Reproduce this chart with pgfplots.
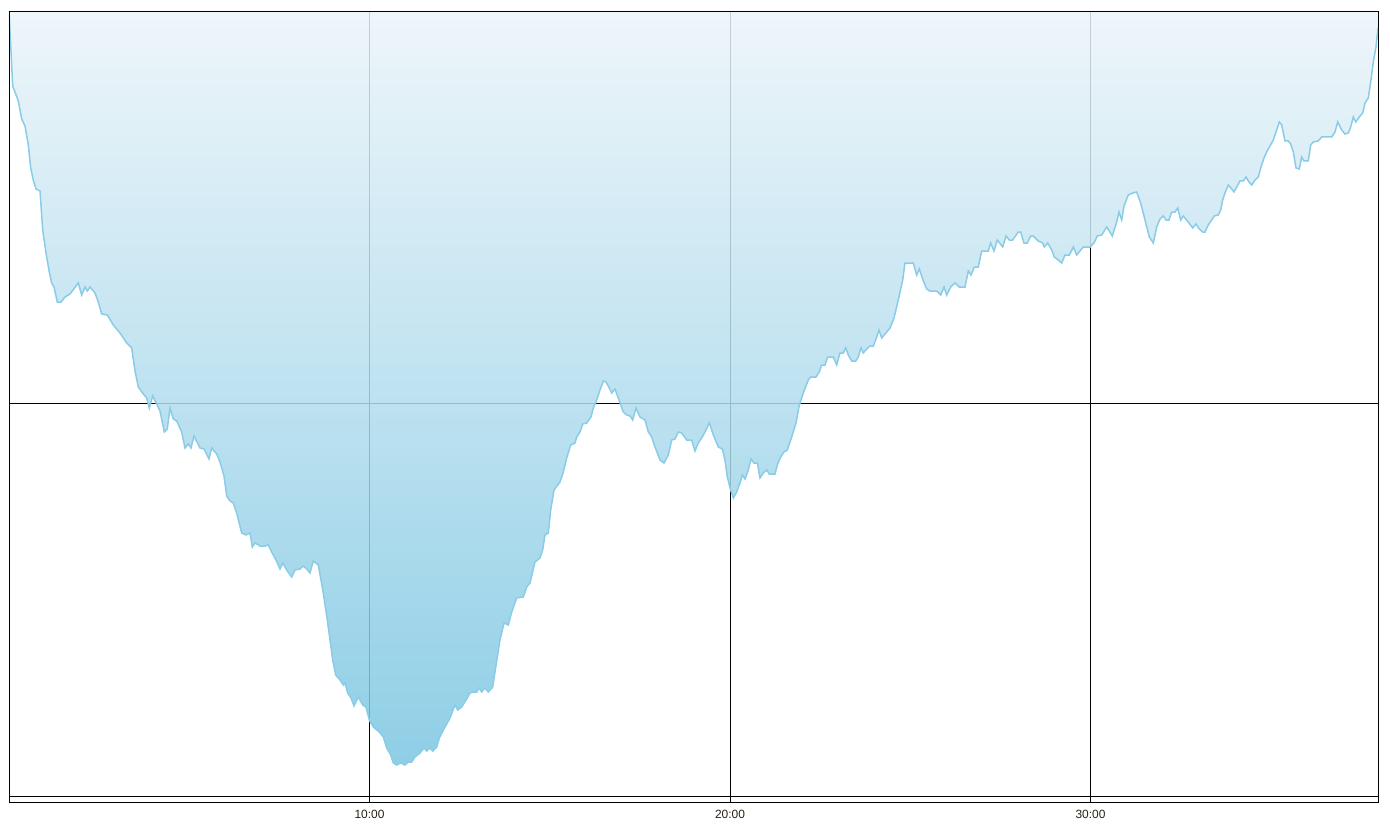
\documentclass[border=0pt]{standalone}
\usepackage{fontspec}
\setmainfont{Liberation Sans}
\usepackage{pgfplots}
\pgfplotsset{compat=1.18}
\usepackage{pgfplotstable}
\definecolor{fillTop}{RGB}{235,244,249}
\definecolor{fillBot}{RGB}{123,198,226}
\definecolor{lineC}{RGB}{138,204,232}
\definecolor{labC}{RGB}{40,34,20}
% x, y in picture units (x: 0:00 at 8.5, 10 min = 360.5; y: depth, 11 = surface)
\pgfplotstableread{
x y
9 11
12.7 86
15 92
18.3 101
21.7 119
25 126
28.3 145
30.7 168
33.3 180
36 189
40 191
42.7 230
46 253
49.3 272
51.7 283
54 287
57.3 302
61 302
65 297
70 294
78.3 283
81.7 295
85 287
87.3 291
90 287
95 293
98.3 302
101.7 314
107.3 315
113.3 325
120 333
126.7 343
131.7 348
135 371
138.3 387
143.3 394
146.7 398
149.3 408
152.7 396
156.7 404
160 411
164.3 432
167.3 429
170 408
173.3 419
176.7 421
181.7 432
185 448
188.3 444
191 448
194 436
200 448
204 449
209 459
211.7 448
216.7 454
220 462
224 476
226.7 496
230 501
233.3 503
236.7 513
241.7 533
246 535
250 533
252.3 547
255 543
260 546
265 546
268.3 545
271.7 552
276 560
280 569
282.7 563
286.7 570
291.7 577
295 570
300 569
303.3 566
306.7 569
310 573
313.3 561
318.3 565
323.3 593
327.3 620
330 640
332.7 660
335.7 675
340 680
343.3 685
345 683
347.7 693
351 698
354 706
358.3 697
362.7 705
366 707
369.3 720
373.3 727
379.3 732
383.3 737
386.7 748
390.7 755
393.3 763
396.7 765
400.7 763
405 765
408.3 762
411.7 762
415 757
420 753
424 748
426.7 751
430 748
432.7 751
436.7 747
439.3 738
443.3 730
447.3 723
450 718
455 705
457.7 710
461.7 707
466.7 699
470 693
473.3 692
476.7 692
479 688
481.7 692
485 688
488.3 692
492.7 687
495 672
497.3 657
500 640
504 623
508.3 625
511.7 612
516.7 598
523.3 597
526.7 587
530 583
535 562
540 558
542.7 550
545 535
548.3 533
550.7 510
554 490
560 482
563.3 472
566.7 458
570.7 445
575 443
576.7 437
580 432
582.7 424
586.7 423
591 417
593.3 408
596 402
599.3 392
603.3 381
606 382
609.3 388
611.7 393
615 389
618.3 398
623.3 412
626.7 415
630 416
632.7 420
636 408
640 417
645 420
648.3 432
651.7 437
655 447
660 460
664 463
668.3 455
671.7 440
675 439
678.3 432
681.7 433
686.7 440
691.7 440
695 451
698.3 443
701.7 438
705 432
709.3 423
713.3 435
718.3 447
722.3 449
725 460
727.3 477
730.7 490
733.3 498
736.7 492
740 483
742.3 475
745 479
748.3 470
751 459
754 463
757.3 463
760 478
763.3 473
766.7 470
769.3 474
775 474
777.3 465
780.7 457
784 452
787.3 450
791.7 437
796 423
799.3 405
803.3 393
808.3 380
810.7 377
816 377
819.3 372
821.7 365
825 365
827.7 357
833.3 357
836.7 365
840 353
843.3 353
845.7 348
848.3 355
851.7 361
855.7 361
858.3 357
861 348
863.3 353
866.7 349
870 346
873.3 346
876 339
879 330
881.7 338
885 334
890 328
894 318
898.3 300
902.7 280
905 263
913.3 263
916.7 275
919.3 269
923.3 281
926.7 289
930 291
936.7 291
940.7 295
944 287
946.7 295
950.7 287
955 283
959.3 287
965 287
968.3 271
971 275
974.3 267
978.3 267
981.7 251
988.3 251
990.7 243
994 251
997.3 240
1002.7 247
1006 236
1009.3 240
1012.7 240
1018.3 232
1020.7 232
1024 243
1027.3 243
1030.7 236
1033.3 236
1038.3 241
1042.7 243
1044.3 247
1047.7 243
1051.7 250
1054.3 257
1058.3 260
1061.7 263
1065 255
1069.3 255
1073.3 247
1076.7 255
1083.3 247
1090 247
1094 243
1097.3 236
1101.7 235
1106.7 227
1112.3 236
1116.7 222
1119 212
1121.7 220
1124 206
1128.3 195
1132.7 193
1136.7 192
1140.7 203
1145 220
1149.3 237
1153.3 243
1156.7 227
1160 219
1163.3 216
1166 220
1169 220
1171.7 212
1175 212
1177.7 208
1180.7 220
1183.3 216
1188.3 222
1192.7 228
1196 224
1199.3 229
1202.7 232
1205 232
1208.3 225
1211.7 220
1214.3 216
1218.3 215
1220.7 210
1222.7 200
1225 193
1228.3 185
1231.7 189
1234 192
1236.7 187
1240 181
1243.3 181
1246 177
1249 182
1251.7 185
1255 180
1258.3 177
1261 167
1264 158
1266.7 152
1270 146
1273.3 140
1276 132
1279.3 122
1281.7 125
1285 141
1288.3 141
1290.7 144
1293.3 152
1296 168
1299.3 169
1301.7 157
1304 161
1308.3 161
1310.7 145
1313.3 142
1318.3 141
1321.7 137
1331.7 137
1335 132
1337.7 122
1341.7 130
1345 134
1348.3 133
1350.7 127
1353.3 117
1355.7 122
1359.3 117
1362.7 113
1365 103
1368.3 98
1370.7 82
1373.3 62
1376 47
1378 28
}\profile
\begin{document}
\begin{tikzpicture}
\useasboundingbox (-9bp,-28bp) rectangle (1381bp,802bp);
\begin{axis}[
  at={(0,0)}, anchor=south west,
  scale only axis, width=1369bp, height=791bp,
  xmin=9, xmax=1378, ymin=11, ymax=802, y dir=reverse,
  xtick={369.5,730,1090.5}, xticklabels={10:00,20:00,30:00},
  ytick={403.5,796}, yticklabels={},
  grid=major, major grid style={black, line width=0.8bp},
  major tick length=0pt,
  axis line style={black, line width=0.8bp},
  tick label style={font=\fontsize{12}{14}\selectfont, text=labC},
  xticklabel style={yshift=-5bp},
]
\addplot[draw=none, fill opacity=0.85, top color=fillTop, bottom color=fillBot, forget plot]
  table[x=x, y=y]{\profile} \closedcycle;
\addplot[lineC, line width=1.5bp] table[x=x, y=y]{\profile};
\draw[black, line width=0.8bp] (rel axis cs:0,0) rectangle (rel axis cs:1,1);
\end{axis}
\end{tikzpicture}
\end{document}
